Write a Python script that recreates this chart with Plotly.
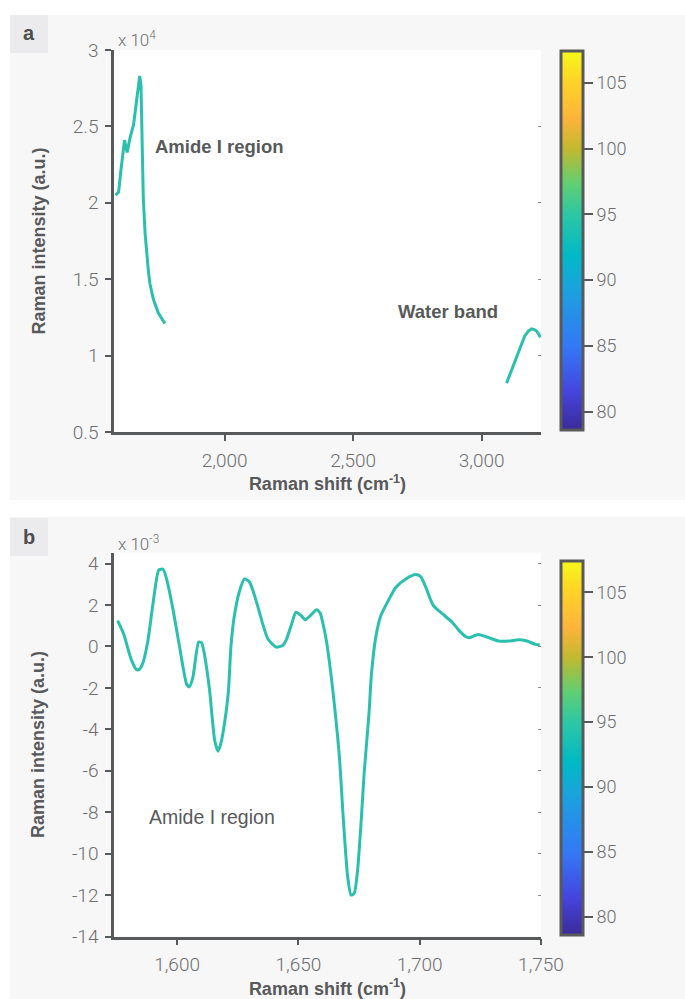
import plotly.graph_objects as go

# ---------------- data ----------------
# Panel a: intensities shown in units of 1e4 (axis reads "x 10^4")
a_shift_amide = [1575, 1580, 1587, 1595, 1600, 1610, 1620, 1632, 1645, 1660, 1669, 1674,
                 1678, 1683, 1690, 1696, 1703, 1709, 1722, 1741, 1767]
a_int_amide = [2.05, 2.06, 2.07, 2.20, 2.28, 2.41, 2.33, 2.43, 2.51, 2.70, 2.83, 2.77,
               2.40, 2.03, 1.80, 1.66, 1.55, 1.47, 1.37, 1.28, 1.21]
a_shift_water = [3097, 3115, 3136, 3150, 3168, 3182, 3194, 3205, 3214, 3222, 3229]
a_int_water = [0.82, 0.90, 0.99, 1.06, 1.13, 1.16, 1.175, 1.17, 1.16, 1.14, 1.12]

# Panel b: intensities shown in units of 1e-3 (axis reads "x 10^-3")
b_shift = [1575.5, 1578, 1581, 1583.3, 1584.5, 1586, 1588, 1590, 1592.5, 1594.3, 1596, 1598.4,
           1601, 1603.9, 1605, 1606.5, 1608.9, 1610.1, 1611.3, 1613.4, 1615.5, 1616.9, 1618.2,
           1620.3, 1621.2, 1622.2, 1623.5, 1625.8, 1627.8, 1629.9, 1632.6, 1635.3, 1637.4,
           1640.8, 1643.5, 1644.9, 1647, 1649, 1651, 1652.9, 1655, 1657.5, 1659, 1660, 1661.5,
           1662.7, 1664.2, 1666.9, 1668.5, 1670.3, 1671.7, 1673, 1674.4, 1676, 1677.1, 1679.2,
           1680, 1681.9, 1684, 1687, 1690.2, 1694.3, 1698.4, 1700.4, 1702.5, 1705.6, 1709.3,
           1713.4, 1716, 1718.9, 1720.3, 1724.1, 1728.5, 1732.6, 1736.7, 1740.8, 1744.2,
           1747.7, 1749.5]
b_int = [1.25, 0.6, -0.6, -1.12, -1.1, -0.76, 0.3, 2.0, 3.7, 3.72, 3.1, 1.73,
         0.0, -1.8, -1.95, -1.5, 0.21, 0.18, -0.4, -2.12, -4.53, -5.06, -4.6,
         -3.08, -2.1, 0.0, 1.4, 2.7, 3.26, 3.1, 2.2, 1.09, 0.37,
         -0.03, 0.05, 0.29, 1.0, 1.65, 1.5, 1.29, 1.5, 1.77, 1.6, 1.17, 0.3,
         -0.67, -2.12, -5.33, -8.3, -11.1, -12.0, -11.92, -10.8, -8.2, -6.13, -3.08,
         -1.5, 0.45, 1.49, 2.2, 2.86, 3.26, 3.47, 3.37, 2.86, 1.98, 1.58,
         1.17, 0.8, 0.48, 0.42, 0.58, 0.42, 0.26, 0.26, 0.32, 0.26,
         0.1, 0.08]

a_xticks = [2000, 2500, 3000]
a_xticklabels = ["2,000", "2,500", "3,000"]
a_yticks = [0.5, 1, 1.5, 2, 2.5, 3]
a_yticklabels = ["0.5", "1", "1.5", "2", "2.5", "3"]
b_xticks = [1600, 1650, 1700, 1750]
b_xticklabels = ["1,600", "1,650", "1,700", "1,750"]
b_yticks = [-14, -12, -10, -8, -6, -4, -2, 0, 2, 4]
b_yticklabels = ["-14", "-12", "-10", "-8", "-6", "-4", "-2", "0", "2", "4"]
cbar_ticks = [80, 85, 90, 95, 100, 105]
cbar_min, cbar_max = 78.65, 107.45

# ---------------- styling ----------------
W, H = 685, 999
LINE = "#2bc0ad"
AX = "#58595b"
TICKC = "#6d6e70"
TITLEC = "#58595b"
TICKFONT = dict(family="Roboto, Liberation Sans, sans-serif", size=19, color=TICKC, weight=300)
CBFONT = dict(family="Roboto, Liberation Sans, sans-serif", size=18, color=TICKC, weight=300)
TITLEFONT = dict(family="Liberation Sans, Arial, sans-serif", size=18, color=TITLEC, weight="bold")

parula = [
    [0.00, "#3b2a98"], [0.10, "#4545de"], [0.22, "#3478f6"], [0.38, "#1aa4dc"],
    [0.46, "#00b9c6"], [0.57, "#2dc7a4"], [0.65, "#60cf72"], [0.74, "#c0b92f"],
    [0.82, "#fdb33b"], [0.92, "#fed327"], [1.00, "#f6f81a"],
]

def px_x(p):
    return p / W

def px_y(p):
    return 1 - p / H

fig = go.Figure()

# panel a spectrum (two measured windows)
fig.add_trace(go.Scatter(
    x=a_shift_amide + [None] + a_shift_water,
    y=a_int_amide + [None] + a_int_water,
    mode="lines", line=dict(color=LINE, width=3), connectgaps=False,
    xaxis="x", yaxis="y", showlegend=False, hoverinfo="skip"))

# panel b spectrum
fig.add_trace(go.Scatter(
    x=b_shift, y=b_int, mode="lines",
    line=dict(color=LINE, width=3, shape="spline", smoothing=0.6),
    xaxis="x2", yaxis="y2", showlegend=False, hoverinfo="skip"))

def cbar(yc, length):
    return dict(
        thickness=22, thicknessmode="pixels", len=length, lenmode="pixels",
        x=px_x(561), xanchor="left", y=px_y(yc), yanchor="middle",
        xpad=0, ypad=0, outlinewidth=3, outlinecolor=AX,
        ticks="outside", ticklen=9, tickwidth=2, tickcolor=AX,
        tickvals=cbar_ticks, tickfont=CBFONT, ticklabelposition="outside")

# dummy traces carrying the colour bars (points lie outside the visible ranges)
fig.add_trace(go.Scatter(
    x=[5000], y=[10], mode="markers", xaxis="x", yaxis="y",
    marker=dict(color=[90], colorscale=parula, cmin=cbar_min, cmax=cbar_max,
                showscale=True, colorbar=cbar(240, 379), size=1),
    showlegend=False, hoverinfo="skip"))
fig.add_trace(go.Scatter(
    x=[5000], y=[100], mode="markers", xaxis="x2", yaxis="y2",
    marker=dict(color=[90], colorscale=parula, cmin=cbar_min, cmax=cbar_max,
                showscale=True, colorbar=cbar(747.5, 374), size=1),
    showlegend=False, hoverinfo="skip"))

# dummy traces for the right-hand tick marks
fig.add_trace(go.Scatter(x=[5000], y=[10], mode="markers", xaxis="x", yaxis="y3",
                         showlegend=False, hoverinfo="skip", marker=dict(size=1)))
fig.add_trace(go.Scatter(x=[5000], y=[100], mode="markers", xaxis="x2", yaxis="y4",
                         showlegend=False, hoverinfo="skip", marker=dict(size=1)))

axis_common = dict(showline=True, linecolor=AX, linewidth=2.5, ticks="outside",
                   ticklen=6, tickwidth=2, tickcolor=AX, showgrid=False,
                   zeroline=False, tickfont=TICKFONT, ticklabelstandoff=3,
                   automargin=False)

a_dom_x = [px_x(114), px_x(541)]
a_dom_y = [px_y(432), px_y(50)]
b_dom_y = [px_y(936.5), px_y(552.6)]

fig.update_layout(
    width=W, height=H, margin=dict(l=0, r=0, t=0, b=0, autoexpand=False),
    paper_bgcolor="white", plot_bgcolor="rgba(0,0,0,0)",
    xaxis=dict(domain=a_dom_x, range=[1569, 3231], anchor="y",
               tickvals=a_xticks, ticktext=a_xticklabels,
               title=dict(text="Raman shift (cm<sup>-1</sup>)", font=TITLEFONT, standoff=3),
               **axis_common),
    yaxis=dict(domain=a_dom_y, range=[0.5, 3], anchor="x",
               tickvals=a_yticks, ticktext=a_yticklabels,
               title=dict(text="Raman intensity (a.u.)", font=TITLEFONT, standoff=23),
               **axis_common),
    xaxis2=dict(domain=a_dom_x, range=[1574, 1750], anchor="y2",
                tickvals=b_xticks, ticktext=b_xticklabels,
                title=dict(text="Raman shift (cm<sup>-1</sup>)", font=TITLEFONT, standoff=3),
                **axis_common),
    yaxis2=dict(domain=b_dom_y, range=[-14, 4.53], anchor="x2",
                tickvals=b_yticks, ticktext=b_yticklabels,
                title=dict(text="Raman intensity (a.u.)", font=TITLEFONT, standoff=23),
                **axis_common),
    yaxis3=dict(overlaying="y", side="right", anchor="x", range=[0.5, 3],
                tickvals=[1, 1.5, 2, 2.5], ticks="inside", ticklen=3, tickwidth=1,
                tickcolor="#8a8a8a", showticklabels=False, showline=False,
                showgrid=False, zeroline=False, automargin=False),
    yaxis4=dict(overlaying="y2", side="right", anchor="x2", range=[-14, 4.53],
                tickvals=[-12, -10, -8, -6, -4, -2, 0, 2, 4], ticks="inside", ticklen=3,
                tickwidth=1, tickcolor="#8a8a8a", showticklabels=False, showline=False,
                showgrid=False, zeroline=False, automargin=False),
)

shapes = [
    # panel backgrounds
    dict(type="rect", xref="paper", yref="paper", x0=px_x(10), x1=1,
         y0=px_y(500), y1=px_y(15), fillcolor="#f7f7f7", line=dict(width=0), layer="below"),
    dict(type="rect", xref="paper", yref="paper", x0=px_x(10), x1=1,
         y0=0, y1=px_y(517), fillcolor="#f7f7f7", line=dict(width=0), layer="below"),
    # label boxes
    dict(type="rect", xref="paper", yref="paper", x0=px_x(10), x1=px_x(48),
         y0=px_y(53), y1=px_y(15), fillcolor="#ebebed", line=dict(width=0), layer="below"),
    dict(type="rect", xref="paper", yref="paper", x0=px_x(10), x1=px_x(48),
         y0=px_y(556), y1=px_y(518), fillcolor="#ebebed", line=dict(width=0), layer="below"),
    # white plotting areas
    dict(type="rect", xref="x domain", yref="y domain", x0=0, x1=1, y0=0, y1=1,
         fillcolor="white", line=dict(width=0), layer="below"),
    dict(type="rect", xref="x2 domain", yref="y2 domain", x0=0, x1=1, y0=0, y1=1,
         fillcolor="white", line=dict(width=0), layer="below"),
]
fig.update_layout(shapes=shapes)

LIGHT = dict(family="Roboto, Liberation Sans, sans-serif", size=17, color=TICKC, weight=300)
LABELFONT_BOLD = dict(family="Liberation Sans, Arial, sans-serif", size=18.5, color=TITLEC, weight="bold")
annotations = [
    dict(text="a", xref="paper", yref="paper", x=px_x(29), y=px_y(33), showarrow=False,
         xanchor="center", yanchor="middle",
         font=dict(family="Liberation Sans, Arial, sans-serif", size=20, color="#4d4d4f", weight="bold")),
    dict(text="b", xref="paper", yref="paper", x=px_x(29), y=px_y(537), showarrow=False,
         xanchor="center", yanchor="middle",
         font=dict(family="Liberation Sans, Arial, sans-serif", size=20, color="#4d4d4f", weight="bold")),
    dict(text="x 10<sup>4</sup>", xref="paper", yref="paper", x=px_x(116), y=px_y(39),
         showarrow=False, xanchor="left", yanchor="middle", font=LIGHT),
    dict(text="x 10<sup>-3</sup>", xref="paper", yref="paper", x=px_x(116), y=px_y(543),
         showarrow=False, xanchor="left", yanchor="middle", font=LIGHT),
    dict(text="Amide I region", xref="x", yref="y", x=1720, y=2.37, showarrow=False,
         xanchor="left", yanchor="middle", font=LABELFONT_BOLD),
    dict(text="Water band", xref="x", yref="y", x=2668, y=1.29, showarrow=False,
         xanchor="left", yanchor="middle", font=LABELFONT_BOLD),
    dict(text="Amide I region", xref="x2", yref="y2", x=1587.6, y=-8.24, showarrow=False,
         xanchor="left", yanchor="middle",
         font=dict(family="Liberation Sans, Arial, sans-serif", size=19.5, color=TITLEC)),
]
fig.update_layout(annotations=annotations)

fig.write_html(
    "out.html",
    config={"displayModeBar": False},
    post_script="document.body.style.margin='0';document.body.style.overflow='hidden';",
)
